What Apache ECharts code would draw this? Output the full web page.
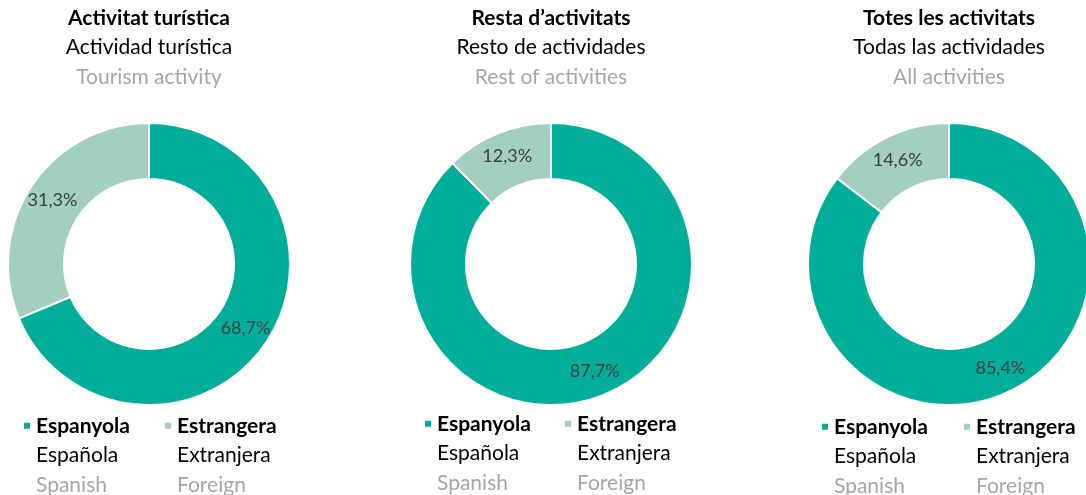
<!DOCTYPE html>
<html lang="ca">
<head>
<meta charset="utf-8">
<title>Activitat turística - nacionalitat</title>
<script src="https://cdn.jsdelivr.net/npm/echarts@6/dist/echarts.min.js"></script>
<style>
  html, body { margin: 0; height: 100%; background: #fff; }
  #chart { width: 1086px; height: 495px; }
</style>
</head>
<body>
<div id="chart"></div>
<script>
// titles in three languages
var titlesCa = ['Activitat turística', 'Resta d’activitats', 'Totes les activitats'];
var titlesEs = ['Actividad turística', 'Resto de actividades', 'Todas las actividades'];
var titlesEn = ['Tourism activity', 'Rest of activities', 'All activities'];

// series names
var namesCa = ['Espanyola', 'Estrangera'];
var namesEs = ['Española', 'Extranjera'];
var namesEn = ['Spanish', 'Foreign'];

// shares (%)
var spanish = [68.7, 87.7, 85.4];
var foreign = [31.3, 12.3, 14.6];

var centersX = [149, 551, 949];
var legendX = [[22, 163], [423, 563], [820, 962]];
var legendY = [434, 432, 435];

var FONT = 'Lato, "Noto Sans", sans-serif';
var FS = 21;
var LH = 29.5;

var chart = echarts.init(document.getElementById('chart'), null, { renderer: 'canvas' });

var titles = [], legends = [], series = [];

function richStyles() {
  return {
    e: { fontFamily: FONT, fontSize: FS, lineHeight: LH },
    b: { fontFamily: FONT, fontSize: FS, fontWeight: 'bold', color: '#000', lineHeight: LH },
    m: { fontFamily: FONT, fontSize: FS, fontWeight: 'normal', color: '#000', lineHeight: LH },
    g: { fontFamily: FONT, fontSize: FS, fontWeight: 'normal', color: '#a6a6a6', lineHeight: LH }
  };
}

titlesCa.forEach(function (t, i) {
  titles.push({
    text: '{b|' + t + '}\n{m|' + titlesEs[i] + '}\n{g|' + titlesEn[i] + '}',
    left: centersX[i],
    top: 3,
    padding: 0,
    textAlign: 'center',
    textStyle: { fontWeight: 'normal', rich: richStyles() }
  });

  namesCa.forEach(function (n, k) {
    legends.push({
      data: [n],
      left: legendX[i][k],
      top: legendY[i] - 4 - 2 * LH - LH / 2,
      padding: 0,
      icon: 'rect',
      itemWidth: 8,
      itemHeight: 8,
      selectedMode: false,
      formatter: function (name) {
        var j = namesCa.indexOf(name);
        // two blank lines above keep the marker beside the first line
        return '{e| }\n{e| }\n{b|' + name + '}\n{m|' + namesEs[j] + '}\n{g|' + namesEn[j] + '}';
      },
      textStyle: { rich: richStyles() }
    });
  });

  series.push({
    type: 'pie',
    center: [centersX[i], 264],
    radius: [85, 141],
    startAngle: 90,
    clockwise: true,
    avoidLabelOverlap: false,
    silent: true,
    itemStyle: { borderColor: '#fff', borderWidth: 2 },
    label: {
      show: true,
      position: 'inside',
      fontFamily: FONT,
      fontSize: 18,
      color: '#404040',
      formatter: function (p) {
        return p.value.toFixed(1).replace('.', ',') + '%';
      }
    },
    labelLine: { show: false },
    data: [
      { name: namesCa[0], value: spanish[i] },
      { name: namesCa[1], value: foreign[i] }
    ]
  });
});

var option = {
  backgroundColor: '#ffffff',
  animation: false,
  color: ['#00ae99', '#a3cfc0'],
  title: titles,
  legend: legends,
  series: series
};

chart.setOption(option);
window.addEventListener('resize', chart.resize);
</script>
</body>
</html>
